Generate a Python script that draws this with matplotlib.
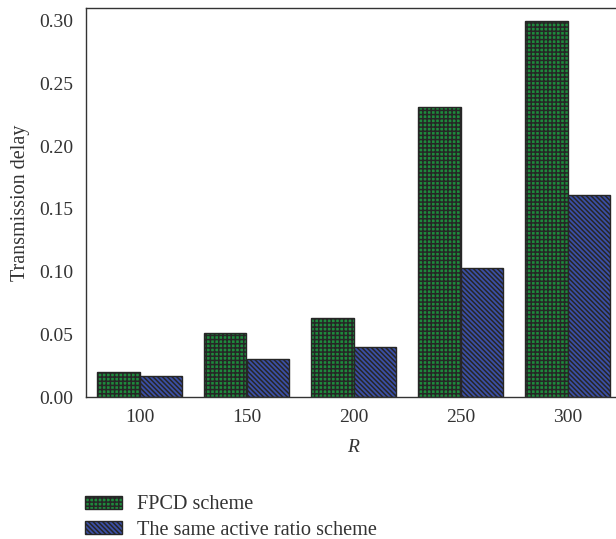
import matplotlib.pyplot as plt
import numpy as np

plt.rcParams['font.family'] = ['Liberation Serif', 'DejaVu Serif']
plt.rcParams['hatch.linewidth'] = 1.1

r_labels = ["100", "150", "200", "250", "300"]
fpcd = [0.020, 0.051, 0.063, 0.231, 0.300]
same_ratio = [0.017, 0.030, 0.040, 0.103, 0.161]

fig = plt.figure(figsize=(6.16, 5.39), dpi=100)
ax = fig.add_axes([86/616, 142/539, 535/616, 389/539])

x = np.arange(len(r_labels))
w = 0.4
b1 = ax.bar(x - w/2, fpcd, w, facecolor='#1e8a3c', edgecolor='#262626',
            hatch='++++', linewidth=1.0, label='FPCD scheme')
b2 = ax.bar(x + w/2, same_ratio, w, facecolor='#3b4fa6', edgecolor='#262626',
            hatch='\\' * 7, linewidth=1.0, label='The same active ratio scheme')

ax.set_xlim(-0.5, 4.5)
ax.set_ylim(0, 0.31)
ax.set_xticks(x)
ax.set_xticklabels(r_labels)
ax.set_yticks([0.0, 0.05, 0.10, 0.15, 0.20, 0.25, 0.30])
ax.set_yticklabels(["0.00", "0.05", "0.10", "0.15", "0.20", "0.25", "0.30"])
ax.tick_params(length=0, labelsize=14, colors='#333333', pad=9)
for s in ax.spines.values():
    s.set_color('#333333')
    s.set_linewidth(1.0)
ax.set_xlabel("R", fontsize=14, style='italic', color='#333333', labelpad=9)
ax.set_ylabel("Transmission delay", fontsize=14.5, color='#333333', labelpad=7)

fig.legend(handles=[b1, b2], loc='upper left', bbox_to_anchor=(67/616, 1 - 477/539),
           frameon=False, fontsize=14.6, handlelength=1.8, handleheight=0.6,
           handletextpad=0.75, labelspacing=0.33, labelcolor='#333333')

fig.savefig("out.png", dpi=100)
